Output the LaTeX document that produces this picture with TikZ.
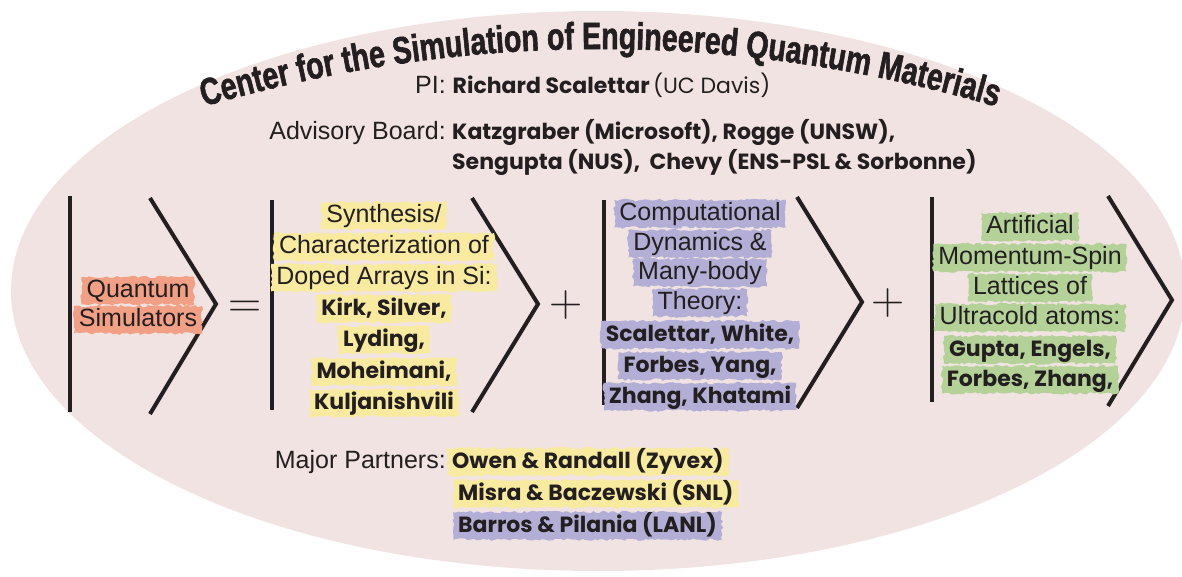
\documentclass[tikz,border=0pt]{standalone}
\usepackage{fontspec}
\newfontfamily\helv{Liberation Sans}
\newfontfamily\chalk{Poppins}
\newfontfamily\titlefont{Liberation Sans}[FakeStretch=0.75, BoldFeatures={FakeBold=1.5}]
\usetikzlibrary{decorations.text,decorations.pathmorphing}
\definecolor{bg}{RGB}{241,227,225}
\definecolor{ink}{RGB}{35,31,32}
\definecolor{hlsalmon}{RGB}{242,160,133}
\definecolor{hlyellow}{RGB}{248,234,158}
\definecolor{hllav}{RGB}{178,174,213}
\definecolor{hlgreen}{RGB}{180,210,152}
\newcommand\hv{\helv\fontsize{25}{28}\selectfont}
\newcommand\nmb{\chalk\bfseries\fontsize{22}{28}\selectfont}
\newcommand\nmr{\chalk\fontsize{22}{28}\selectfont}
\tikzset{
  txt/.style={inner xsep=5pt, inner ysep=2pt, text height=18pt, text depth=5.5pt, text=ink},
  hl/.style={txt, fill=#1, decorate, decoration={random steps, segment length=3pt, amplitude=1.3pt}},
  ketbar/.style={draw=ink, line width=4.5pt},
  ketang/.style={draw=ink, line width=4pt, line join=miter},
  op/.style={inner sep=0pt, text=ink, font=\fontsize{46}{46}\selectfont},
}
\begin{document}
\begin{tikzpicture}[x=1pt,y=-1pt]
\pgfmathsetseed{7}
\useasboundingbox (0,0) rectangle (1182,576);
\clip (0,0) rectangle (1182,576);
\fill[bg] (598,291) ellipse [x radius=587pt, y radius=280pt];
% title
\path[decorate, decoration={text along path, text align=center,
  text={|\titlefont\bfseries\fontsize{38}{38}\selectfont\color{ink}|Center for the Simulation of Engineered Quantum Materials}}]
  (130,130) .. controls (443.3,22) and (756.7,22) .. (1070,130);
% PI and board
\node[txt, inner xsep=0pt, anchor=base west] (pi) at (415,93) {{\hv PI: }{\nmb Richard Scalettar} {\nmr (UC Davis)}};
\node[txt, inner xsep=0pt, anchor=base east] (adv) at (446,139) {\hv Advisory Board:};
\node[txt, inner xsep=0pt, anchor=base west] (adv1) at (452,139) {\nmb Katzgraber \nmr(Microsoft)\nmb, Rogge \nmr(UNSW),};
\node[txt, inner xsep=0pt, anchor=base west] (adv2) at (452,169) {\nmb Sengupta \nmr(NUS),\ \ \nmb Chevy \nmr(ENS-PSL \& Sorbonne)};
% kets
\draw[ketbar] (70,196) -- (70,412);
\draw[ketang] (150,198) -- (216,304) -- (150,414);
\draw[ketbar] (272,200) -- (272,410);
\draw[ketang] (472,198) -- (538,304) -- (472,412);
\draw[ketbar] (604,200) -- (604,405);
\draw[ketang] (797,197) -- (862,302) -- (797,408);
\draw[ketbar] (932,197) -- (932,402);
\draw[ketang] (1108,196) -- (1172,300) -- (1108,406);
% operators
\node[op, anchor=base] (eq) at (245,317.5) {=};
\node[op, anchor=base] (plus1) at (566,316.5) {+};
\node[op, anchor=base] (plus2) at (888,314.5) {+};
% column 1
\node[hl=hlsalmon, anchor=base] (q1) at (138,297) {\hv Quantum};
\node[hl=hlsalmon, anchor=base] (q2) at (138,326) {\hv Simulators};
% column 2
\node[hl=hlyellow, anchor=base] (s1) at (384,222) {\hv Synthesis/};
\node[hl=hlyellow, anchor=base] (s2) at (384,253) {\hv Characterization of};
\node[hl=hlyellow, anchor=base] (s3) at (384,284) {\hv Doped Arrays in Si:};
\node[hl=hlyellow, anchor=base] (s4) at (384,315) {\nmb Kirk, Silver,};
\node[hl=hlyellow, anchor=base] (s5) at (384,346) {\nmb Lyding,};
\node[hl=hlyellow, anchor=base] (s6) at (384,378) {\nmb Moheimani,};
\node[hl=hlyellow, anchor=base] (s7) at (384,409) {\nmb Kuljanishvili};
% column 3
\node[hl=hllav, anchor=base] (c1) at (700,220) {\hv Computational};
\node[hl=hllav, anchor=base] (c2) at (700,250) {\hv Dynamics \&};
\node[hl=hllav, anchor=base] (c3) at (700,279) {\hv Many-body};
\node[hl=hllav, anchor=base] (c4) at (700,309) {\hv Theory:};
\node[hl=hllav, anchor=base] (c5) at (700,341) {\nmb Scalettar, White,};
\node[hl=hllav, anchor=base] (c6) at (700,372) {\nmb Forbes, Yang,};
\node[hl=hllav, anchor=base] (c7) at (700,403) {\nmb Zhang, Khatami};
% column 4
\node[hl=hlgreen, anchor=base] (a1) at (1030,233) {\hv Artificial};
\node[hl=hlgreen, anchor=base] (a2) at (1030,264) {\hv Momentum-Spin};
\node[hl=hlgreen, anchor=base] (a3) at (1030,294) {\hv Lattices of};
\node[hl=hlgreen, anchor=base] (a4) at (1030,324) {\hv Ultracold atoms:};
\node[hl=hlgreen, anchor=base] (a5) at (1030,356) {\nmb Gupta, Engels,};
\node[hl=hlgreen, anchor=base] (a6) at (1030,386) {\nmb Forbes, Zhang,};
% partners
\node[txt, inner xsep=0pt, anchor=base east] (mp) at (446,468) {\hv Major Partners:};
\node[hl=hlyellow, anchor=base west] (p1) at (447,468) {\nmb Owen \nmr\& \nmb Randall \nmr(Zyvex)};
\node[hl=hlyellow, anchor=base west] (p2) at (453,500) {\nmb Misra \nmr\& \nmb Baczewski \nmr(SNL)};
\node[hl=hllav, anchor=base west] (p3) at (453,532) {\nmb Barros \nmr\& \nmb Pilania \nmr(LANL)};
\end{tikzpicture}
\end{document}
